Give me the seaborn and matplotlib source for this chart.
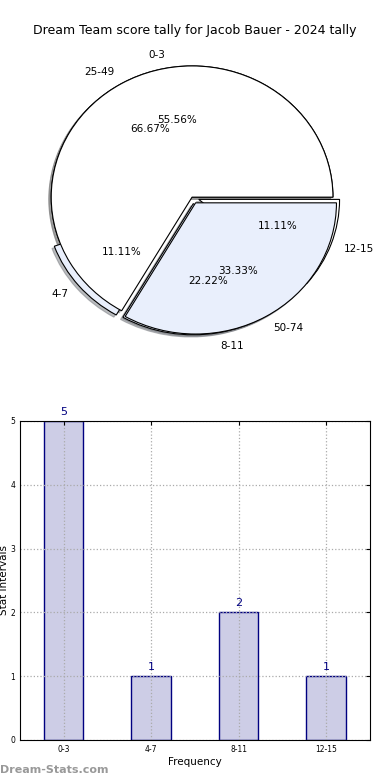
import matplotlib
matplotlib.use("Agg")
import matplotlib.pyplot as plt
import seaborn as sns
import pandas as pd

# data
intervals = ["0-3", "4-7", "8-11", "12-15"]
counts = [5, 1, 2, 1]
score_bands = ["25-49", "50-74"]
band_counts = [2, 1]
title = "Dream Team score tally for Jacob Bauer - 2024 tally"

sns.set_style("white")
plt.rcParams["font.family"] = ["DejaVu Sans"]
plt.rcParams["text.color"] = "black"
plt.rcParams["axes.labelcolor"] = "black"
plt.rcParams["xtick.color"] = "black"
plt.rcParams["ytick.color"] = "black"

LIGHT = "#e9effc"
fig = plt.figure(figsize=(3.9, 7.8), dpi=100)

# ---- pie(s) ----
ax1 = fig.add_axes([0.041, 0.537, 0.903, 0.4205])
wp = dict(edgecolor="black", linewidth=0.8)
tp = dict(fontsize=7.5, color="black")
shadow = dict(ox=-0.012, oy=-0.012, shade=0.5)
ax1.pie(counts, labels=intervals, autopct="%1.2f%%", shadow=shadow,
        explode=[0, 0.05, 0.05, 0.05], colors=["white", LIGHT, LIGHT, "white"],
        wedgeprops=wp, textprops=tp, labeldistance=1.1, pctdistance=0.6)
ax1.pie(band_counts, labels=score_bands, autopct="%1.2f%%", shadow=shadow,
        explode=[0, 0.05], colors=["white", LIGHT],
        wedgeprops=wp, textprops=tp, labeldistance=1.1, pctdistance=0.6)
ax1.set_aspect("auto")
ax1.set_xlim(-1.25, 1.25)
ax1.set_ylim(-1.25, 1.25)
fig.text(0.5, 0.961, title, ha="center", va="center", fontsize=9)

# ---- bars ----
ax2 = fig.add_axes([0.051, 0.0513, 0.897, 0.409])
df = pd.DataFrame({"interval": intervals, "count": counts})
sns.barplot(data=df, x="interval", y="count", ax=ax2, color="#cdcde6",
            saturation=1, edgecolor="navy", linewidth=1, width=0.45)
for b in ax2.patches:
    b.set_facecolor("#cdcde6")
    b.set_edgecolor("navy")
ax2.bar_label(ax2.containers[0], labels=[str(c) for c in counts],
              color="navy", fontsize=8, padding=3)
ax2.set_ylim(0, 5)
ax2.set_xlim(-0.5, 3.5)
ax2.set_yticks(range(6))
ax2.grid(True, linestyle=":", color="#aaaaaa", linewidth=0.9)
ax2.set_axisbelow(False)
ax2.tick_params(direction="in", labelsize=5.5, length=3,
                top=True, right=True)
for s in ax2.spines.values():
    s.set_visible(True)
    s.set_color("black")
    s.set_linewidth(0.8)
    s.set_zorder(5)
ax2.set_xlabel("Frequency", fontsize=7.5, labelpad=2)
ax2.set_ylabel("Stat Intervals", fontsize=7.5, labelpad=1)

fig.text(0.0, 0.006, "Dream-Stats.com", color="#999999", fontsize=8,
         fontweight="bold", ha="left", va="bottom")

fig.savefig("out.png", dpi=100)
